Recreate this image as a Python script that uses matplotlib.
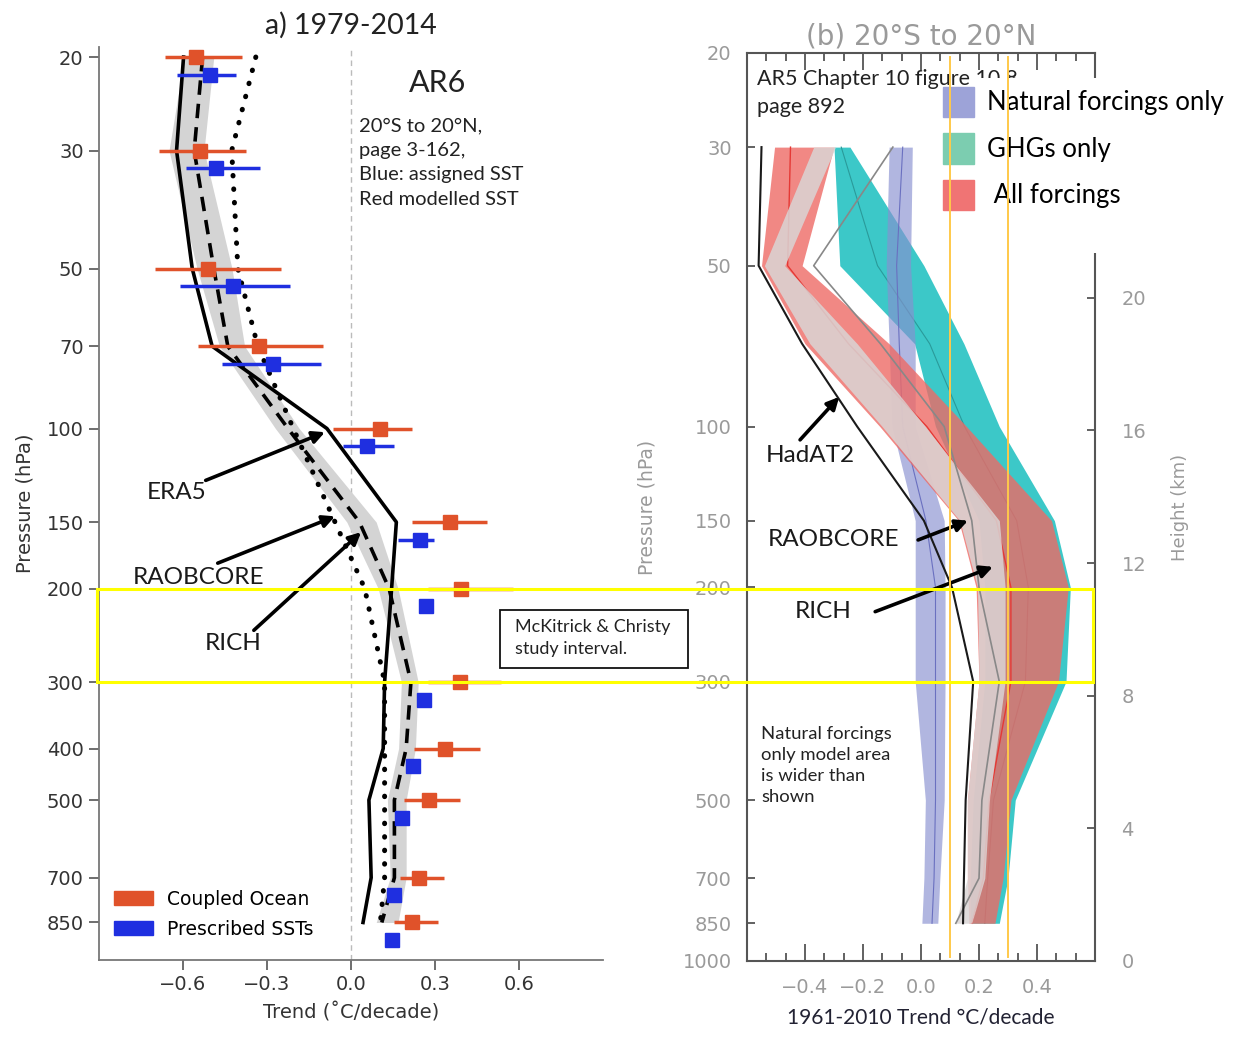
import numpy as np
import matplotlib.pyplot as plt
import matplotlib.transforms as mtransforms
from matplotlib.patches import Patch, Rectangle
from matplotlib.ticker import MultipleLocator, NullLocator, FixedLocator

# ---------------- panel a) AR6 1979-2014, 20S-20N ----------------
lev_a = [20, 30, 50, 70, 100, 150, 200, 300, 400, 500, 700, 850]
coupled = [-0.553, -0.541, -0.51, -0.329, 0.104, 0.353, 0.394, 0.388, 0.335, 0.278, 0.244, 0.218]
coupled_lo = [-0.666, -0.687, -0.70, -0.546, -0.064, 0.218, 0.276, 0.276, 0.226, 0.19, 0.176, 0.155]
coupled_hi = [-0.39, -0.376, -0.25, -0.10, 0.218, 0.487, 0.58, 0.537, 0.459, 0.388, 0.332, 0.31]
prescribed = [-0.503, -0.482, -0.421, -0.277, 0.056, 0.247, 0.268, 0.261, 0.222, 0.183, 0.155, 0.145]
prescribed_lo = [-0.62, -0.588, -0.609, -0.46, -0.03, 0.168, 0.25, 0.245, 0.205, 0.17, 0.14, 0.145]
prescribed_hi = [-0.41, -0.326, -0.217, -0.107, 0.154, 0.297, 0.29, 0.28, 0.24, 0.196, 0.168, 0.145]
era5 = [-0.598, -0.623, -0.567, -0.496, -0.086, 0.162, 0.145, 0.12, 0.115, 0.064, 0.072, 0.043]
rich = [-0.53, -0.56, -0.49, -0.44, -0.225, 0.03, 0.136, 0.214, 0.197, 0.155, 0.155, 0.11]
raobcore = [-0.34, -0.426, -0.404, -0.333, -0.206, -0.057, 0.049, 0.12, 0.12, 0.12, 0.12, 0.105]
band_lo = [-0.595, -0.65, -0.55, -0.47, -0.27, -0.015, 0.097, 0.18, 0.17, 0.13, 0.14, 0.09]
band_hi = [-0.49, -0.525, -0.425, -0.38, -0.185, 0.09, 0.168, 0.24, 0.23, 0.197, 0.197, 0.168]

# ---------------- panel b) AR5 1961-2010, 20S-20N ----------------
lev_b = [30, 50, 70, 100, 150, 200, 300, 500, 700, 850]
hadat2 = [-0.55, -0.56, -0.41, -0.22, 0.01, 0.107, 0.18, 0.154, 0.148, 0.145]
raob_b = [-0.097, -0.37, -0.14, 0.08, 0.175, 0.2, 0.27, 0.21, 0.2, 0.12]
rich_lo = [-0.37, -0.54, -0.383, -0.134, 0.134, 0.195, 0.2, 0.16, 0.16, 0.12]
rich_hi = [-0.295, -0.47, -0.22, 0.015, 0.27, 0.29, 0.29, 0.236, 0.22, 0.175]
all_lo = [-0.505, -0.55, -0.40, -0.142, 0.13, 0.19, 0.2, 0.16, 0.16, 0.165]
all_hi = [-0.30, -0.41, -0.11, 0.157, 0.45, 0.508, 0.474, 0.31, 0.283, 0.255]
all_mid = [-0.45, -0.46, -0.25, 0.02, 0.26, 0.31, 0.31, 0.235, 0.215, 0.175]
ghg_lo = [-0.30, -0.28, -0.022, 0.05, 0.2, 0.22, 0.22, 0.18, 0.17, 0.17]
ghg_hi = [-0.245, 0.01, 0.148, 0.27, 0.46, 0.515, 0.50, 0.325, 0.30, 0.27]
ghg_mid = [-0.275, -0.15, 0.03, 0.15, 0.33, 0.37, 0.36, 0.25, 0.23, 0.22]
nat_lo = [-0.11, -0.12, -0.11, -0.10, -0.02, -0.02, -0.02, 0.015, 0.01, 0.003]
nat_hi = [-0.03, -0.036, -0.02, -0.02, 0.08, 0.083, 0.083, 0.08, 0.065, 0.058]
nat_mid = [-0.063, -0.084, -0.075, -0.063, 0.017, 0.05, 0.05, 0.05, 0.045, 0.038]
height_km = [0, 4, 8, 12, 16, 20]
mc_lines = [0.1, 0.3]

red = '#E0522A'
blue = '#1F2FE0'
grey_txt = '#9a9a9a'

fig = plt.figure(figsize=(12.36, 10.37), dpi=100)
axL = fig.add_axes([99/1236, 77/1037, 504/1236, 913/1037])
axR = fig.add_axes([747/1236, 76/1037, 348/1236, 908/1037])

# ---- left panel ----
axL.set_yscale('log')
axL.set_ylim(1000, 19.15)
axL.set_xlim(-0.9, 0.9)
axL.axvline(0, color='#bbbbbb', lw=1, ls=(0, (4, 3)), zorder=0)
axL.fill_betweenx(lev_a, band_lo, band_hi, color='#d4d4d4', lw=0, zorder=1)
axL.plot(era5, lev_a, color='k', lw=2.6, zorder=3)
axL.plot(rich, lev_a, color='k', lw=2.6, ls=(0, (4, 2.5)), zorder=3)
axL.plot(raobcore, lev_a, color='k', lw=3.6, ls=(0, (0.1, 2.6)),
         dash_capstyle='round', zorder=3)

x = np.array(coupled)
axL.errorbar(x, lev_a, xerr=[x - np.array(coupled_lo), np.array(coupled_hi) - x],
             fmt='s', color=red, ms=10, elinewidth=2.5, capsize=0, zorder=4)
x = np.array(prescribed)
p_sst = np.array(lev_a) * 1.08
axL.errorbar(x, p_sst, xerr=[x - np.array(prescribed_lo), np.array(prescribed_hi) - x],
             fmt='s', color=blue, ms=10, elinewidth=2.5, capsize=0, zorder=4)

axL.yaxis.set_major_locator(FixedLocator(lev_a))
axL.yaxis.set_minor_locator(NullLocator())
axL.set_yticklabels([str(v) for v in lev_a])
axL.set_xticks([-0.6, -0.3, 0.0, 0.3, 0.6])
axL.set_xticklabels(['\u22120.6', '\u22120.3', '0.0', '0.3', '0.6'])
axL.tick_params(direction='out', length=7, width=1.2, color='#555555',
                labelsize=14, labelcolor='#333333', pad=4)
for s in ['top', 'right']:
    axL.spines[s].set_visible(False)
for s in ['left', 'bottom']:
    axL.spines[s].set_color('#777777')
    axL.spines[s].set_linewidth(1.3)
axL.set_ylabel('Pressure (hPa)', fontsize=14, color='#333333', labelpad=9)
axL.set_xlabel('Trend (\u02daC/decade)', fontsize=14, color='#333333', labelpad=6)

axL.legend(handles=[Patch(color=red, label='Coupled Ocean'),
                    Patch(color=blue, label='Prescribed SSTs')],
           loc='lower left', bbox_to_anchor=(0.015, 0.015), borderaxespad=0,
           frameon=False, fontsize=13.5, handlelength=2.1, handleheight=0.75,
           labelspacing=0.6, handletextpad=0.7)

fig.text(351/1236, 1 - 25/1037, 'a) 1979-2014', ha='center', va='center',
         fontsize=20.5, family='Lato', color='#222222')
axL.text(0.308, 22.4, 'AR6', ha='center', va='center', fontsize=22,
         family='Lato', color='#222222')
axL.text(0.029, 26.0, '20\u00b0S to 20\u00b0N,\npage 3-162,\nBlue: assigned SST\nRed modelled SST',
         ha='left', va='top', fontsize=14.5, family='Lato', color='#222222',
         linespacing=1.53)

txt_kw = dict(ha='center', va='center', fontsize=17.5, family='Lato', color='#1a1a1a')
arr_kw = dict(arrowstyle='-|>', lw=2.6, color='k', mutation_scale=18, shrinkA=0, shrinkB=0)
axL.text(-0.623, 132, 'ERA5', **txt_kw)
axL.annotate('', xy=(-0.093, 101.6), xytext=(-0.519, 125.2), arrowprops=arr_kw)
axL.text(-0.544, 190.5, 'RAOBCORE', **txt_kw)
axL.annotate('', xy=(-0.057, 146.3), xytext=(-0.476, 179.2), arrowprops=arr_kw)
axL.text(-0.419, 253.7, 'RICH', **txt_kw)
axL.annotate('', xy=(0.036, 156.7), xytext=(-0.347, 239.7), arrowprops=arr_kw)

# ---- right panel ----
axR.set_yscale('log')
axR.set_ylim(1000, 20)
axR.set_xlim(-0.6, 0.6)
axR.fill_betweenx(lev_b, ghg_lo, ghg_hi, color='#3CC8C8', lw=0, zorder=1)
axR.plot(ghg_mid, lev_b, color='#2a9a9a', lw=0.8, zorder=1.5)
axR.fill_betweenx(lev_b, nat_lo, nat_hi, color='#8890D0', alpha=0.65, lw=0, zorder=2)
axR.plot(nat_mid, lev_b, color='#6a70c0', lw=0.8, zorder=2.1)
axR.fill_betweenx(lev_b, all_lo, all_hi, color='#EE6A66', alpha=0.8, lw=0, zorder=3)
axR.plot(all_mid, lev_b, color='#E53935', lw=1, zorder=3.1)
axR.fill_betweenx(lev_b, rich_lo, rich_hi, color='#DAD5D5', alpha=0.85, lw=0, zorder=3.5)
axR.plot(raob_b, lev_b, color='#888888', lw=1.2, zorder=3.6)
axR.plot(hadat2, lev_b, color='#1a1a1a', lw=1.5, zorder=3.7)

lev_ticks_b = [20, 30, 50, 100, 150, 200, 300, 500, 700, 850, 1000]
axR.yaxis.set_major_locator(FixedLocator(lev_ticks_b))
axR.yaxis.set_minor_locator(NullLocator())
axR.set_yticklabels([str(v) for v in lev_ticks_b])
axR.set_xticks([-0.4, -0.2, 0.0, 0.2, 0.4])
axR.set_xticklabels(['\u22120.4', '\u22120.2', '0.0', '0.2', '0.4'])
axR.xaxis.set_minor_locator(MultipleLocator(0.2 / 3))
axR.tick_params(axis='x', which='major', direction='in', length=12, width=1.3,
                top=True, pad=12, labelsize=14, labelcolor=grey_txt, color='#555555')
axR.tick_params(axis='x', which='minor', direction='in', length=6, width=1.3,
                top=True, color='#555555')
axR.tick_params(axis='y', direction='in', length=6, width=1.3, pad=11,
                labelsize=14, labelcolor=grey_txt, color='#555555')
for s in axR.spines.values():
    s.set_color('#555555')
    s.set_linewidth(1.5)
axR.set_ylabel('Pressure (hPa)', fontsize=13.5, color=grey_txt, labelpad=19)
axR.set_xlabel('1961-2010 Trend \u00b0C/decade', fontsize=15, family='Lato',
               color='#222233', labelpad=8)
axR.set_title('(b) 20\u00b0S to 20\u00b0N', fontsize=20, color=grey_txt, pad=6)

# height axis (z = 7 km * ln(1000/p)) on the right
ax2 = axR.twinx()
ax2.set_yscale('log')
ax2.set_ylim(1000, 20)
ax2.yaxis.set_major_locator(FixedLocator(1000.0 * np.exp(-np.array(height_km) / 7.0)))
ax2.yaxis.set_minor_locator(NullLocator())
ax2.set_yticklabels([str(h) for h in height_km])
for s in ax2.spines.values():
    s.set_visible(False)
ax2.tick_params(axis='y', direction='in', length=6, width=1.3, pad=19,
                labelsize=14, labelcolor=grey_txt, color='#555555')
ax2.set_ylabel('Height (km)', fontsize=13, color=grey_txt, labelpad=18)

# AR5 note (its end is hidden behind the legend box, as in the source)
axR.text(-0.5645, 21.43, 'AR5 Chapter 10 figure 10.8\npage 892', ha='left', va='top',
         fontsize=15.5, family='Lato', color='#222222', linespacing=1.51, zorder=4)
axR.add_artist(Rectangle((975/1236, 1 - 253/1037), (1236 - 975)/1236, (253 - 78)/1037,
                         transform=fig.transFigure, fc='white', ec='none',
                         zorder=4.5, clip_on=False))
axR.legend(handles=[Patch(color='#9DA3D8', label='Natural forcings only'),
                    Patch(color='#7CCDB0', label='GHGs only'),
                    Patch(color='#F07474', label=' All forcings')],
           loc='upper left', bbox_to_anchor=(0.540, 0.9714), borderaxespad=0,
           borderpad=0.3, frameon=False, prop={'family': 'Lato', 'size': 18.5},
           handlelength=1.23, handleheight=1.45, labelspacing=0.62,
           handletextpad=0.5).set_zorder(5)

for v in mc_lines:
    axR.axvline(v, ymin=0.004, ymax=0.996, color='#FFC94A', lw=1.4, zorder=6)

axR.text(-0.551, 363, 'Natural forcings\nonly model area\nis wider than\nshown',
         ha='left', va='top', fontsize=13.3, family='Lato', color='#222222',
         linespacing=1.39, zorder=4.6)
axR.text(-0.382, 113.5, 'HadAT2', zorder=4.6, **txt_kw)
axR.annotate('', xy=(-0.282, 88), xytext=(-0.417, 105.9), arrowprops=arr_kw, zorder=4.6)
axR.text(-0.303, 163, 'RAOBCORE', zorder=4.6, **txt_kw)
axR.annotate('', xy=(0.162, 150), xytext=(-0.01, 163), arrowprops=arr_kw, zorder=4.6)
axR.text(-0.337, 222, 'RICH', zorder=4.6, **txt_kw)
axR.annotate('', xy=(0.248, 183), xytext=(-0.158, 222), arrowprops=arr_kw, zorder=4.6)

# ---- McKitrick & Christy study interval (200-300 hPa) ----
trans = mtransforms.blended_transform_factory(fig.transFigure, axL.transData)
fig.add_artist(Rectangle((97/1236, 200), (1093 - 97)/1236, 100, transform=trans,
                         fill=False, ec='#FFFF00', lw=2.2, zorder=10, clip_on=False))
fig.add_artist(Rectangle((500/1236, 1 - 668/1037), 188/1236, 58/1037,
                         transform=fig.transFigure, fc='white', ec='#111111',
                         lw=1.3, zorder=11))
fig.text(515/1236, 1 - 638/1037, 'McKitrick & Christy\nstudy interval.', ha='left',
         va='center', fontsize=13, family='Lato', color='#222222', linespacing=1.44,
         zorder=12)

fig.savefig('out.png', dpi=100, facecolor='white')
